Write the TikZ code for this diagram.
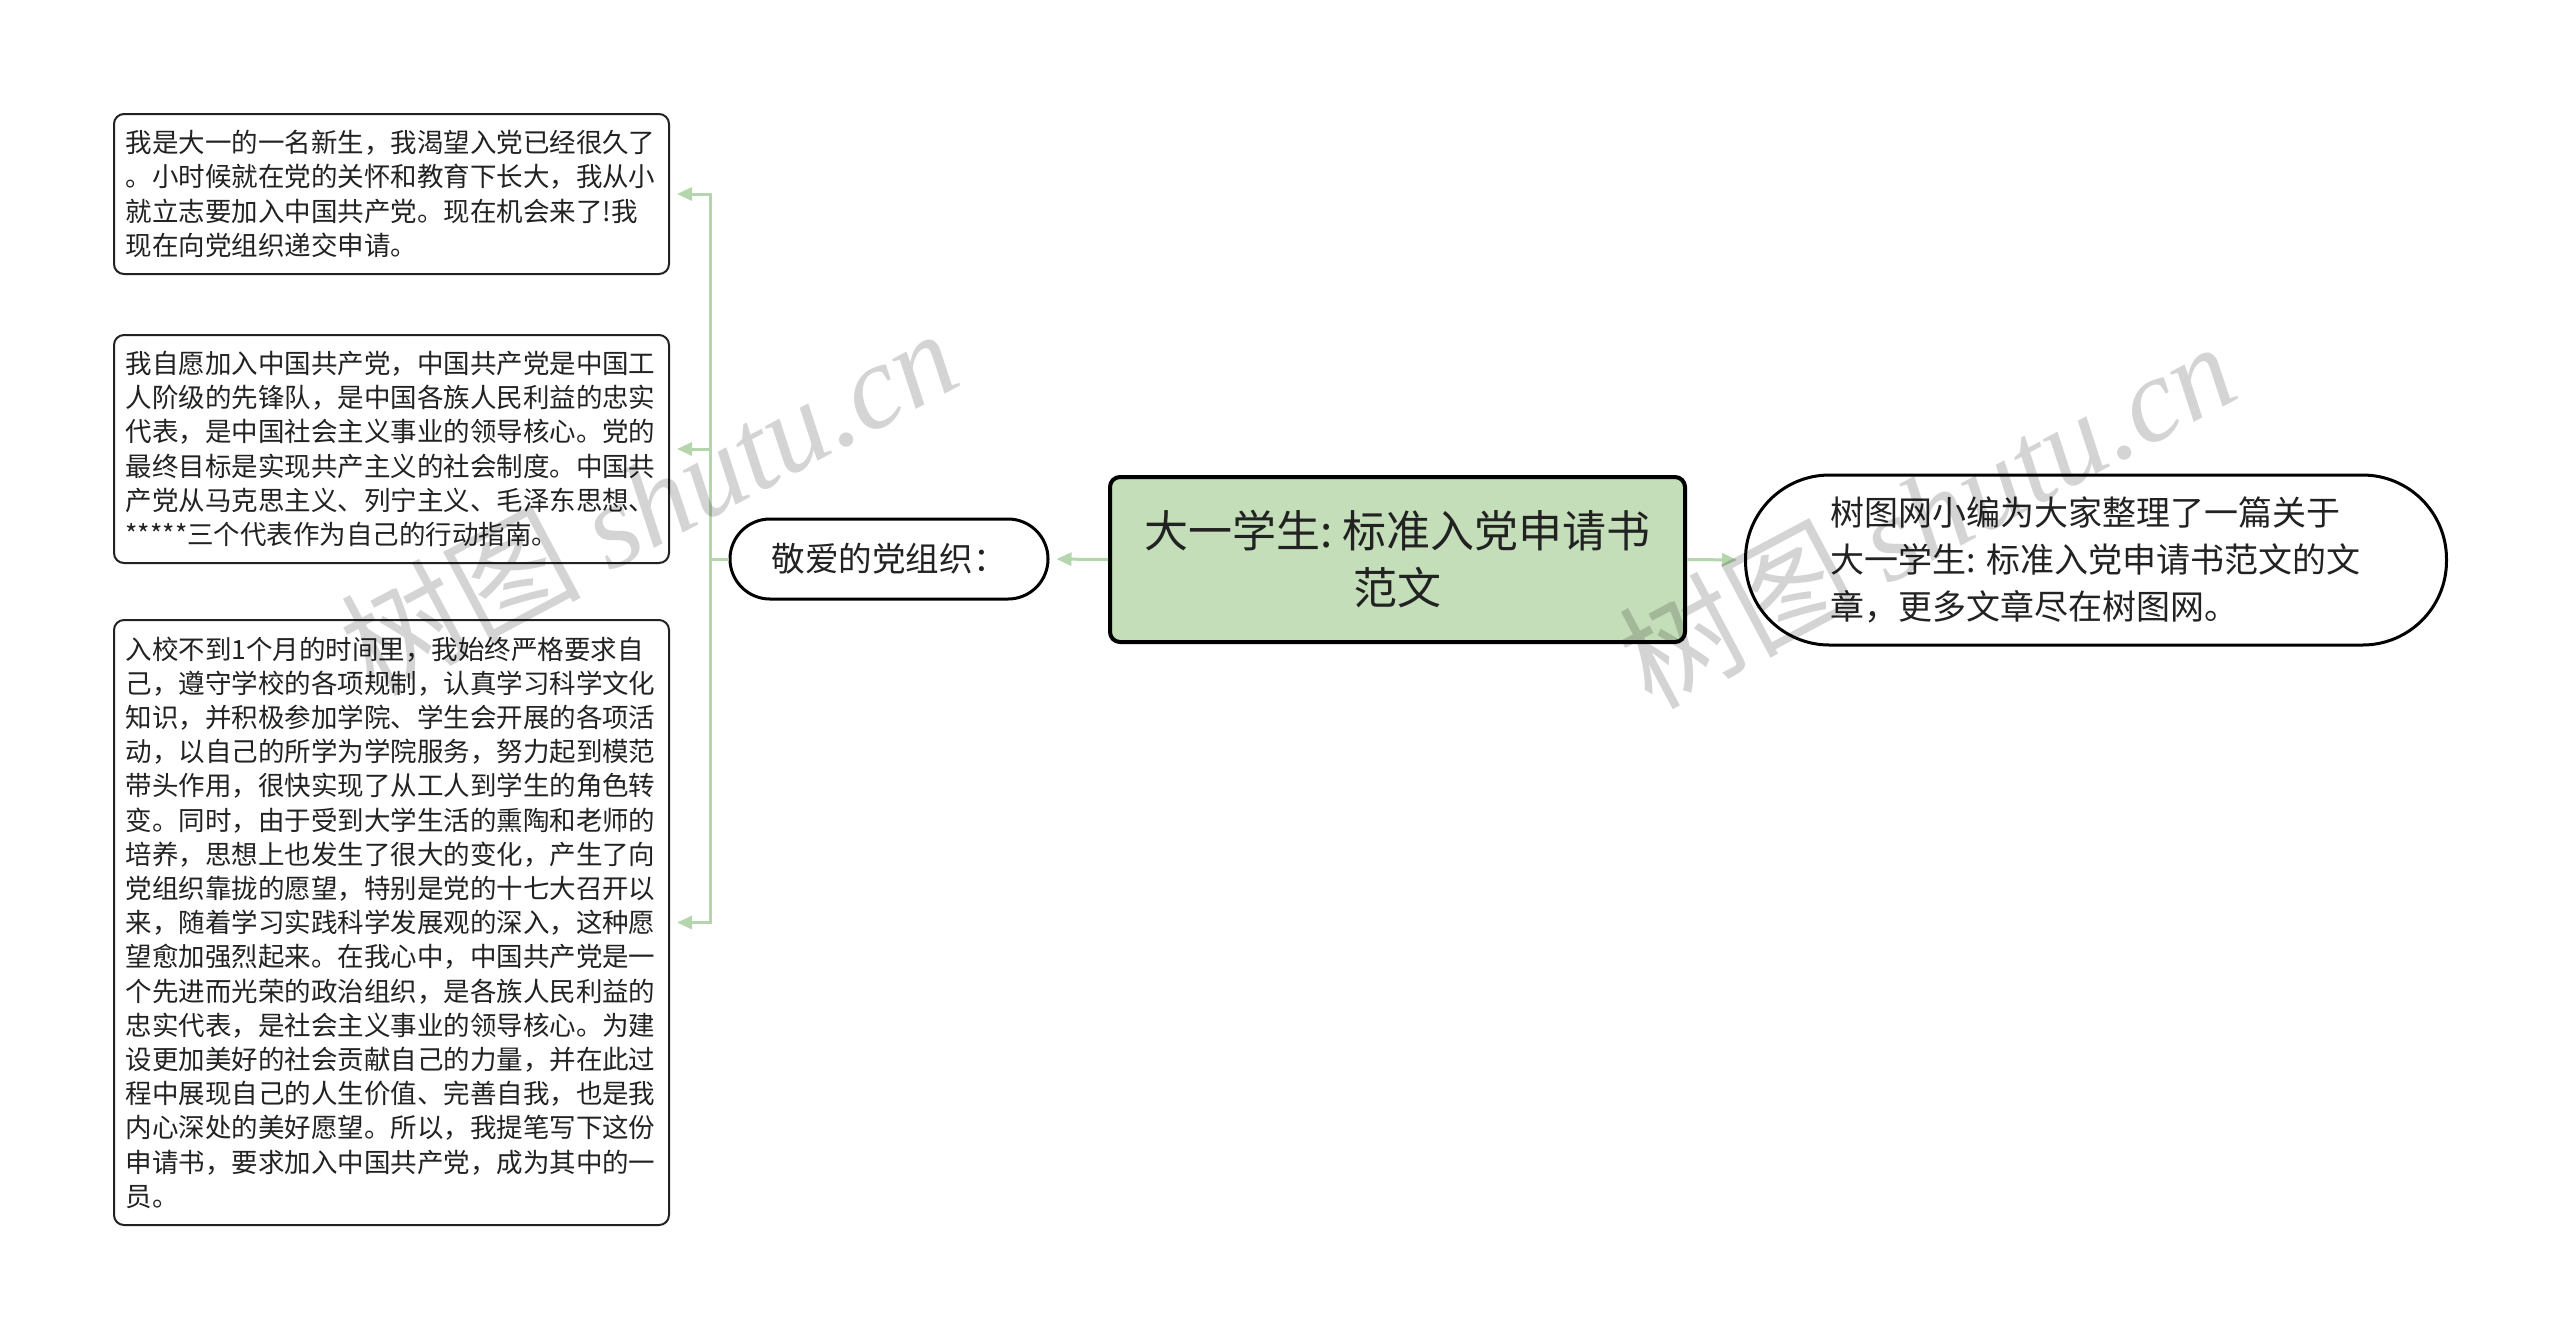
\documentclass[tikz,border=0pt]{standalone}
\usepackage{fontspec}
\setmainfont{Noto Sans CJK SC}
\newfontfamily\wmfont{Liberation Serif}
\usetikzlibrary{arrows.meta}
\definecolor{linegreen}{RGB}{181,213,173}
\definecolor{rootfill}{RGB}{196,222,185}
\definecolor{txt}{RGB}{34,34,34}
\tikzset{
  leafbox/.style={draw=txt, line width=1pt, rounded corners=5pt, fill=white,
    minimum width=277.5pt, text width=266pt, inner xsep=5.75pt, inner ysep=0pt,
    align=left, text=txt, font=\fontsize{13.25pt}{17.1pt}\selectfont},
  rootbox/.style={draw=black, line width=2pt, rounded corners=5pt, fill=rootfill,
    minimum width=287.5pt, minimum height=82.5pt, align=center, text=txt,
    font=\fontsize{22pt}{28.5pt}\selectfont},
  pillbox/.style={draw=black, line width=1.5pt, fill=white, text=txt},
  conn/.style={draw=linegreen, line width=1.5pt, -{Triangle[length=7.5pt,width=6.5pt]}, shorten >=3.5pt},
  wm/.style={text=black, text opacity=0.17, font=\fontsize{60pt}{64pt}\selectfont, inner sep=0pt}
}
\begin{document}
\begin{tikzpicture}[x=0.5pt,y=-0.5pt]
\useasboundingbox (0,0) rectangle (2560,1341);
\fill[white] (0,0) rectangle (2560,1341);

\node[leafbox, minimum height=80pt] (b1) at (391.5,194) {我是大一的一名新生，我渴望入党已经很久了\\。小时候就在党的关怀和教育下长大，我从小\\就立志要加入中国共产党。现在机会来了!我\\现在向党组织递交申请。};

\node[leafbox, minimum height=114pt] (b2) at (391.5,449) {我自愿加入中国共产党，中国共产党是中国工\\人阶级的先锋队，是中国各族人民利益的忠实\\代表，是中国社会主义事业的领导核心。党的\\最终目标是实现共产主义的社会制度。中国共\\产党从马克思主义、列宁主义、毛泽东思想、\\******三个代表作为自己的行动指南。};

\node[leafbox, minimum height=302.5pt] (b3) at (391.5,922.5) {入校不到1个月的时间里，我始终严格要求自\\己，遵守学校的各项规制，认真学习科学文化\\知识，并积极参加学院、学生会开展的各项活\\动，以自己的所学为学院服务，努力起到模范\\带头作用，很快实现了从工人到学生的角色转\\变。同时，由于受到大学生活的熏陶和老师的\\培养，思想上也发生了很大的变化，产生了向\\党组织靠拢的愿望，特别是党的十七大召开以\\来，随着学习实践科学发展观的深入，这种愿\\望愈加强烈起来。在我心中，中国共产党是一\\个先进而光荣的政治组织，是各族人民利益的\\忠实代表，是社会主义事业的领导核心。为建\\设更加美好的社会贡献自己的力量，并在此过\\程中展现自己的人生价值、完善自我，也是我\\内心深处的美好愿望。所以，我提笔写下这份\\申请书，要求加入中国共产党，成为其中的一\\员。};

\node[pillbox, minimum width=159pt, minimum height=40pt, rounded corners=20pt,
  font=\fontsize{16.8pt}{20pt}\selectfont] (jing) at (889,559) {敬爱的党组织：};

\node[rootbox] (root) at (1397.5,559.5) {大一学生:~标准入党申请书\\范文};

\node[pillbox, minimum width=350.5pt, minimum height=85pt, rounded corners=42pt,
  text width=266pt, align=left, font=\fontsize{17pt}{23.3pt}\selectfont] (rt) at (2096,560)
  {树图网小编为大家整理了一篇关于\\大一学生:~标准入党申请书范文的文\\章，更多文章尽在树图网。};

\coordinate (tr) at (710,559);
\draw[conn] (root.west) -- (jing.east);
\draw[conn] (root.east) -- (rt.west);
\draw[conn] (jing.west) -- (tr) |- (b1.east);
\draw[conn] (jing.west) -- (tr) |- (b2.east);
\draw[conn] (jing.west) -- (tr) |- (b3.east);

\node[wm, rotate=28] (wm1) at (648,500) {树图 {\wmfont\itshape shutu.cn}};
\node[wm, rotate=28] (wm2) at (1926,513) {树图 {\wmfont\itshape shutu.cn}};
\end{tikzpicture}
\end{document}
